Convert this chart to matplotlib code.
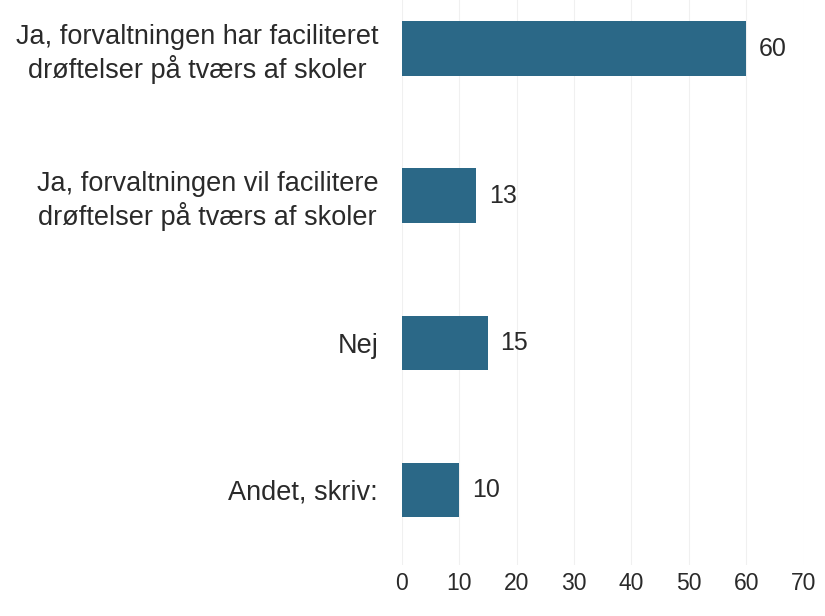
import matplotlib
matplotlib.use("Agg")
import matplotlib.pyplot as plt

categories = ["Ja, forvaltningen har faciliteret\ndrøftelser på tværs af skoler",
              "Ja, forvaltningen vil facilitere\ndrøftelser på tværs af skoler",
              "Nej",
              "Andet, skriv:"]
values = [60, 13, 15, 10]
xticks = [0, 10, 20, 30, 40, 50, 60, 70]

plt.rcParams['font.family'] = ['Liberation Sans', 'DejaVu Sans']
fig = plt.figure(figsize=(8.25, 6.16), dpi=100)
ax = fig.add_axes([0.487, 0.083, 0.487, 0.917])

color = "#2b6887"
ypos = list(range(len(categories)))
ax.barh(ypos, values, height=0.37, color=color, zorder=3)
ax.set_ylim(3.51, -0.33)
ax.set_xlim(0, 70)
ax.set_xticks(xticks)
ax.set_xticklabels([str(t) for t in xticks])
ax.set_yticks(ypos)
ax.set_yticklabels(categories, ha='right', multialignment='center')
ax.tick_params(axis='y', length=0, pad=17, labelsize=19.5, labelcolor='#2a2a2a')
ax.tick_params(axis='x', length=0, pad=5, labelsize=16.5, labelcolor='#2a2a2a')
ax.grid(axis='x', color='#f0f0f0', linewidth=0.8, zorder=0)
for s in ax.spines.values():
    s.set_visible(False)
for y, v in zip(ypos, values):
    ax.text(v + 2.2, y, str(v), va='center', ha='left', fontsize=18, color='#2a2a2a')

fig.savefig("out.png", dpi=100, facecolor='white')
